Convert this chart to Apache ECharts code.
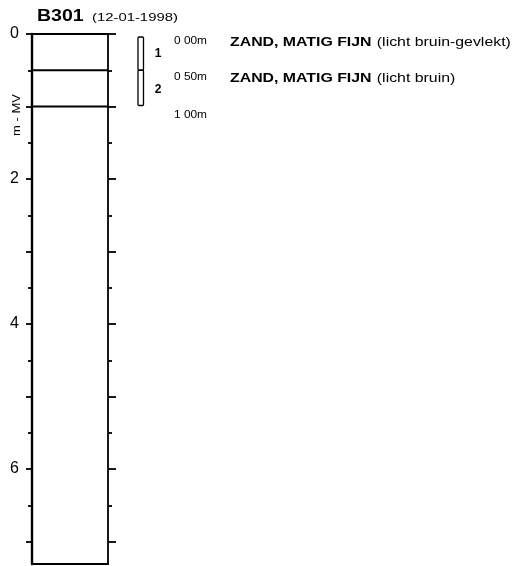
<!DOCTYPE html>
<html><head><meta charset="utf-8">
<script src="https://cdn.jsdelivr.net/npm/echarts@6/dist/echarts.min.js"></script>
<style>html,body{margin:0;padding:0;background:#fff}#c{width:521px;height:566px}</style>
</head><body><div id="c"></div>
<script>
const BORING = 'B301';
const DATE = '(12-01-1998)';
const AXIS_NAME = 'm - MV';
const DEPTH_MAX = 7.31;
const MAJOR_TICKS = [0, 1, 2, 3, 4, 5, 6, 7];
const MINOR_TICKS = [0.5, 1.5, 2.5, 3.5, 4.5, 5.5, 6.5];
const TICK_LABELS = [0, 2, 4, 6];
const LAYER_NO = [1, 2];
const LAYER_TOP = [0.0, 0.5];
const LAYER_BOTTOM = [0.5, 1.0];
const LAYER_NAME = ['ZAND, MATIG FIJN', 'ZAND, MATIG FIJN'];
const LAYER_DESC = ['(licht bruin-gevlekt)', '(licht bruin)'];
const DEPTH_LABELS = ['0 00m', '0 50m', '1 00m'];

const FONT = '"Liberation Sans", Arial, sans-serif';
const chart = echarts.init(document.getElementById('c'), null, {renderer: 'canvas'});

function renderLayer(params, api) {
  const i = params.dataIndex;
  const top = api.value(0), bot = api.value(1);
  const pTop = api.coord([0, top]);
  const pBot = api.coord([0, bot]);
  const xL = pTop[0];
  const xR = api.coord([1, top])[0];
  const last = i === LAYER_TOP.length - 1;
  const children = [];
  if (bot < DEPTH_MAX) {
    children.push({type: 'line', shape: {x1: xL, y1: pBot[1], x2: xR, y2: pBot[1]},
      style: {stroke: '#000', lineWidth: 2}});
  }
  const y0 = pTop[1] + (i === 0 ? 3 : 0);
  const y1 = pBot[1] - (last ? 1 : 0);
  children.push({type: 'rect', shape: {x: xR + 30, y: y0, width: 5.5, height: y1 - y0, r: 1},
    style: {fill: '#fff', stroke: '#000', lineWidth: 1.3}});
  children.push({type: 'text', x: xR + 50, y: (pTop[1] + pBot[1]) / 2 + 1.5,
    style: {text: String(api.value(2)), font: 'bold 12px ' + FONT, fill: '#000', align: 'center', verticalAlign: 'middle'}});
  children.push({type: 'text', x: xR + 66, y: pTop[1] + 7, scaleX: 1.08,
    style: {text: DEPTH_LABELS[i], font: '11px ' + FONT, fill: '#000', align: 'left', verticalAlign: 'middle'}});
  if (last) {
    children.push({type: 'text', x: xR + 66, y: pBot[1] + 8.5, scaleX: 1.08,
      style: {text: DEPTH_LABELS[i + 1], font: '11px ' + FONT, fill: '#000', align: 'left', verticalAlign: 'middle'}});
  }
  children.push({type: 'text', x: xR + 122, y: pTop[1] + 8, scaleX: 1.22,
    style: {
      text: '{b|' + LAYER_NAME[i] + '} {n|' + LAYER_DESC[i] + '}',
      fill: '#000', align: 'left', verticalAlign: 'middle',
      rich: {
        b: {fontFamily: FONT, fontWeight: 'bold', fontSize: 13, fill: '#000'},
        n: {fontFamily: FONT, fontSize: 13, fill: '#000', padding: [0, 0, 0, 1]}
      }
    }});
  return {type: 'group', children: children};
}

const gridBox = {left: 32, right: 413, top: 34, bottom: 2};
const hiddenX = (gridIndex, pos) => ({
  type: 'value', gridIndex: gridIndex, min: 0, max: 1, position: pos,
  axisLine: {show: true, onZero: false, lineStyle: {color: '#000', width: 2}},
  axisTick: {show: false}, axisLabel: {show: false}, splitLine: {show: false}
});
const yAx = (gridIndex, pos, ticks, len, lineShow, labels) => ({
  type: 'value', gridIndex: gridIndex, inverse: true, min: 0, max: DEPTH_MAX, position: pos,
  axisLine: {show: lineShow, onZero: false, lineStyle: {color: '#000', width: pos === 'left' ? 2.4 : 1.8}},
  axisTick: {show: true, customValues: ticks, length: len, inside: false, lineStyle: {color: '#000', width: 1.8}},
  axisLabel: labels ? {show: true, customValues: labels, fontSize: 16, color: '#000', margin: 13, fontFamily: FONT}
                    : {show: false},
  splitLine: {show: false}
});

chart.setOption({
  animation: false,
  backgroundColor: '#fff',
  grid: [Object.assign({}, gridBox), Object.assign({}, gridBox)],
  xAxis: [hiddenX(0, 'top'), hiddenX(1, 'bottom')],
  yAxis: [
    yAx(0, 'left', MAJOR_TICKS, 6, true, TICK_LABELS),
    yAx(0, 'right', MAJOR_TICKS, 8, true, null),
    yAx(1, 'left', MINOR_TICKS, 4, false, null),
    yAx(1, 'right', MINOR_TICKS, 4, false, null)
  ],
  graphic: [
    {type: 'text', x: 37, y: 16, scaleX: 1.15,
     style: {text: BORING, font: 'bold 17px ' + FONT, fill: '#000', verticalAlign: 'middle'}},
    {type: 'text', x: 92, y: 17.5, scaleX: 1.35,
     style: {text: DATE, font: '11px ' + FONT, fill: '#000', verticalAlign: 'middle'}},
    {type: 'text', x: 17, y: 115, rotation: Math.PI / 2, scaleX: 1.3,
     style: {text: AXIS_NAME, font: '10px ' + FONT, fill: '#000', align: 'center', verticalAlign: 'middle'}}
  ],
  series: [{
    type: 'custom', coordinateSystem: 'cartesian2d', xAxisIndex: 0, yAxisIndex: 0,
    renderItem: renderLayer,
    data: LAYER_TOP.map((t, i) => [t, LAYER_BOTTOM[i], LAYER_NO[i]]),
    encode: {y: [0, 1]},
    silent: true
  }]
});
</script></body></html>
